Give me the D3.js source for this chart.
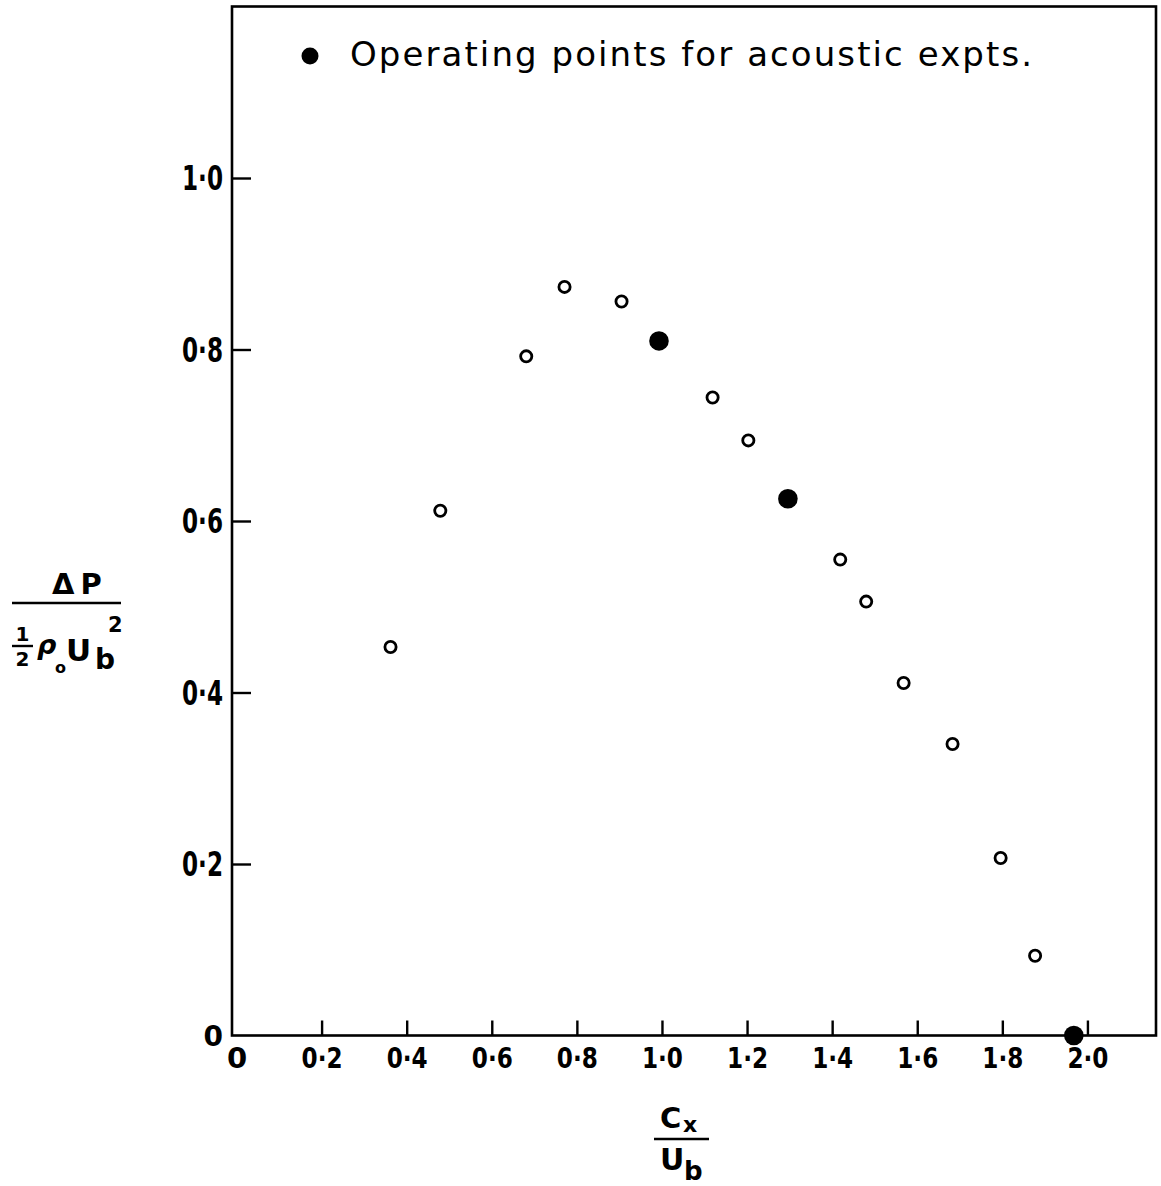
<!DOCTYPE html>
<html>
<head>
<meta charset="utf-8">
<script src="https://cdn.jsdelivr.net/npm/d3@7"></script>
<style>
  html, body { margin: 0; padding: 0; background: #fff; }
  svg { display: block; }
  text { font-family: "DejaVu Sans", sans-serif; fill: #000; }
</style>
</head>
<body>
<svg id="chart" width="1161" height="1186"></svg>
<script>
// ---- data ----
const openX = [0.362, 0.479, 0.681, 0.771, 0.905, 1.119, 1.203, 1.419, 1.480, 1.568, 1.683, 1.796, 1.877];
const openY = [0.453, 0.612, 0.792, 0.873, 0.856, 0.744, 0.694, 0.555, 0.506, 0.411, 0.340, 0.207, 0.093];
const operX = [0.993, 1.296, 1.968];
const operY = [0.810, 0.626, 0.000];
const xTicks = [0, 0.2, 0.4, 0.6, 0.8, 1.0, 1.2, 1.4, 1.6, 1.8, 2.0];
const yTicks = [0, 0.2, 0.4, 0.6, 0.8, 1.0];
const legendLabel = "Operating points for acoustic expts.";

// ---- layout ----
const svg = d3.select("#chart");
const x = d3.scaleLinear().domain([0, 2.16]).range([236.5, 1155.5]);
const y = d3.scaleLinear().domain([0, 1.2]).range([1035.5, 6.5]);
const fmt = v => v === 0 ? "0" : d3.format(".1f")(v).replace(".", "\u00B7");

// frame
svg.append("rect")
  .attr("x", 232).attr("y", y(1.2)).attr("width", 1156 - 232).attr("height", y(0) - y(1.2))
  .attr("fill", "none").attr("stroke", "#000").attr("stroke-width", 2.6);

// x axis
const gx = svg.append("g").attr("transform", `translate(0,${y(0)})`)
  .call(d3.axisBottom(x).tickValues(xTicks).tickSize(-15).tickFormat(fmt));
gx.select(".domain").remove();
gx.selectAll(".tick line").attr("stroke", "#000").attr("stroke-width", 2.4)
  .filter(d => d === 0).remove();
gx.selectAll(".tick text")
  .attr("y", 32).attr("dy", null)
  .attr("font-size", 29).attr("font-weight", "bold")
  .attr("font-family", "DejaVu Sans, sans-serif")
  .each(function(d){ if (d !== 0) d3.select(this).attr("textLength", 41).attr("lengthAdjust", "spacingAndGlyphs"); });

// y axis
const gy = svg.append("g").attr("transform", `translate(233,0)`)
  .call(d3.axisRight(y).tickValues(yTicks).tickSize(18).tickFormat(fmt));
gy.select(".domain").remove();
gy.selectAll(".tick line").attr("stroke", "#000").attr("stroke-width", 2.4)
  .filter(d => d === 0).remove();
gy.selectAll(".tick text")
  .attr("x", -10).attr("dy", "0.36em").attr("text-anchor", "end")
  .attr("font-size", 33).attr("font-weight", "bold")
  .attr("font-family", "DejaVu Sans, sans-serif")
  .each(function(d){ if (d !== 0) d3.select(this).attr("textLength", 41).attr("lengthAdjust", "spacingAndGlyphs"); else d3.select(this).attr("font-size", 28); });

// open points
svg.append("g").selectAll("circle").data(openX.map((v, i) => [v, openY[i]])).join("circle")
  .attr("cx", d => x(d[0])).attr("cy", d => y(d[1])).attr("r", 5.6)
  .attr("fill", "#fff").attr("stroke", "#000").attr("stroke-width", 2.8);

// operating points (filled)
svg.append("g").selectAll("circle").data(operX.map((v, i) => [v, operY[i]])).join("circle")
  .attr("cx", d => x(d[0])).attr("cy", d => y(d[1])).attr("r", 9.8)
  .attr("fill", "#000");

// legend
svg.append("circle").attr("cx", 310).attr("cy", 56).attr("r", 8.5).attr("fill", "#000");
svg.append("text").attr("x", 350).attr("y", 66)
  .attr("font-size", 34).attr("textLength", 682).attr("lengthAdjust", "spacing")
  .text(legendLabel);

// y-axis label: ΔP / (½ ρo Ub²)
const yl = svg.append("g").attr("font-weight", "bold");
yl.append("text").attr("x", 52).attr("y", 594).attr("font-size", 29).attr("letter-spacing", 6).text("\u0394P");
yl.append("line").attr("x1", 12).attr("x2", 121).attr("y1", 603).attr("y2", 603).attr("stroke", "#000").attr("stroke-width", 2.6);
yl.append("text").attr("x", 22.5).attr("y", 641).attr("font-size", 20).attr("text-anchor", "middle").text("1");
yl.append("line").attr("x1", 12).attr("x2", 33).attr("y1", 646).attr("y2", 646).attr("stroke", "#000").attr("stroke-width", 2.4);
yl.append("text").attr("x", 22.5).attr("y", 666).attr("font-size", 20).attr("text-anchor", "middle").text("2");
yl.append("text").attr("x", 37).attr("y", 654).attr("font-size", 27).attr("font-style", "italic").text("\u03C1");
yl.append("text").attr("x", 55).attr("y", 673).attr("font-size", 16).text("o");
yl.append("text").attr("x", 66).attr("y", 661).attr("font-size", 31).text("U");
yl.append("text").attr("x", 95).attr("y", 669).attr("font-size", 28).text("b");
yl.append("text").attr("x", 108).attr("y", 632).attr("font-size", 21).text("2");

// x-axis label: Cx / Ub
const xl = svg.append("g").attr("font-weight", "bold");
xl.append("text").attr("x", 660).attr("y", 1128).attr("font-size", 29).text("C");
xl.append("text").attr("x", 683).attr("y", 1132).attr("font-size", 22).text("x");
xl.append("line").attr("x1", 654).attr("x2", 709).attr("y1", 1139).attr("y2", 1139).attr("stroke", "#000").attr("stroke-width", 2.6);
xl.append("text").attr("x", 660).attr("y", 1170).attr("font-size", 30).text("U");
xl.append("text").attr("x", 684).attr("y", 1180).attr("font-size", 26).text("b");
</script>
</body>
</html>
